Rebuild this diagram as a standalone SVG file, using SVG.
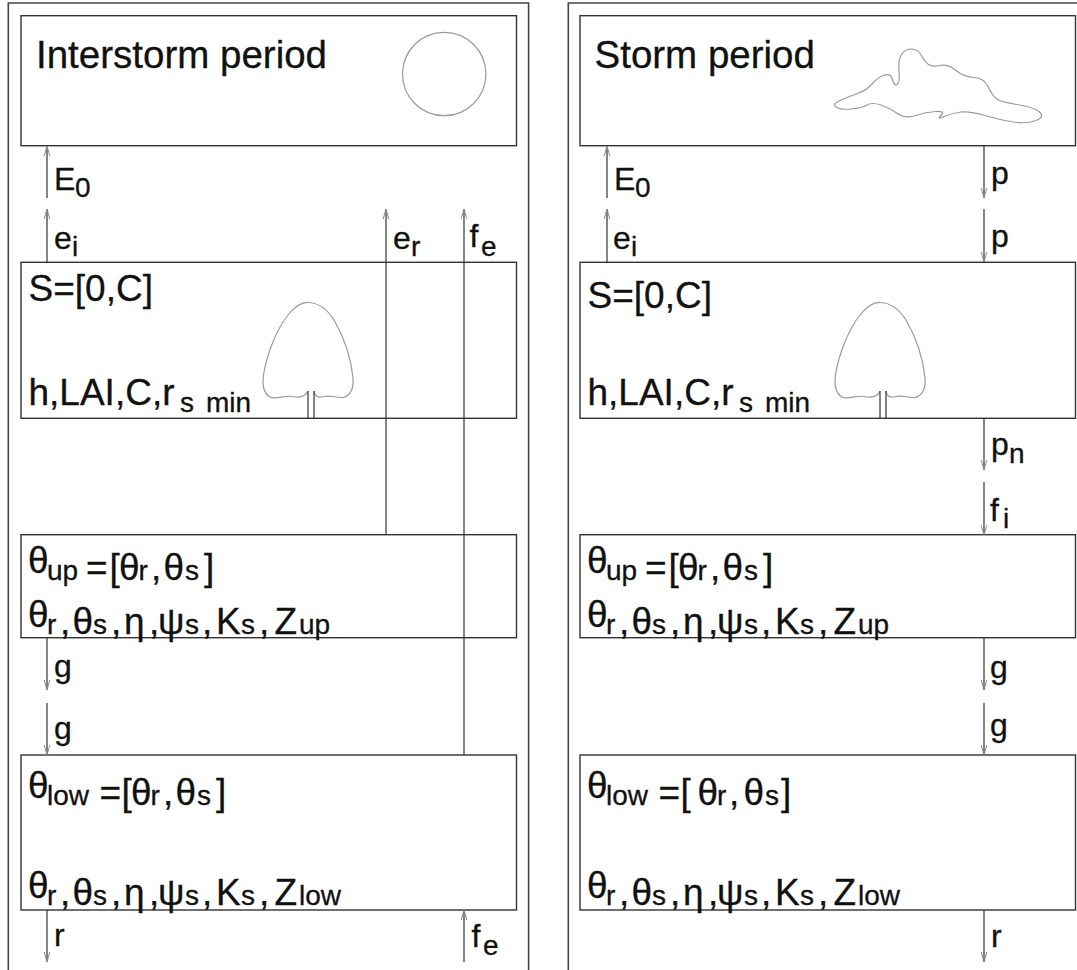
<svg xmlns="http://www.w3.org/2000/svg" xmlns:xlink="http://www.w3.org/1999/xlink" width="1077" height="970" viewBox="0 0 1077 970">
  <style>
    .frame { fill: none; stroke: #444; stroke-width: 1.6; }
    .box { fill: #fff; stroke: #333; stroke-width: 1.4; }
    .sketch { fill: none; stroke: #9a9a9a; stroke-width: 1.2; stroke-linejoin: round; }
    .trunk { fill: none; stroke: #333; stroke-width: 1.2; }
    .flow { fill: none; stroke: #333; stroke-width: 1.2; marker-end: url(#ah); }
    text { font-family: "Liberation Sans", Arial, sans-serif; fill: #111; stroke: #111; stroke-width: 0.3; }
    .title { font-size: 38.5px; }
    .main { font-size: 37px; }
    .lab { font-size: 32px; }
    .sub { font-size: 28px; }
  </style>
  <defs>
    <marker id="ah" viewBox="0 0 12 8" markerWidth="12" markerHeight="8" refX="11" refY="4" orient="auto" markerUnits="userSpaceOnUse">
      <path d="M1,1.2 L11,4 L1,6.8" fill="none" stroke="#8a8a8a" stroke-width="1"/>
    </marker>
    <!-- broadleaf tree: outline of the crown plus a two-line trunk -->
    <g id="tree">
      <path class="sketch" d="M308,391 C306,396 300,398 292,396.5 C284,395 276,400 270,397 C263,393 262,383 264,372 C267,355 276,330 288,315 C296,305 303,302 309,302.5 C318,303 327,309 334,320 C344,337 351,358 353,378 C354,389 350,396 343,397.5 C336,398 330,395 324,396.5 C318,398 315,397 314,391"/>
      <path class="trunk" d="M308,391 V418 M314,391 V418"/>
    </g>
  </defs>

  <rect width="1077" height="970" fill="#fff"/>

  <!-- panel frames -->
  <g id="frames">
    <path class="frame" d="M8.3,975 V3 H528.6 V975"/>
    <path class="frame" d="M568.3,975 V3 H1090"/>
  </g>

  <!-- ===== left panel: interstorm ===== -->
  <g id="interstorm-atmosphere">
    <rect class="box" x="21" y="15.7" width="495.5" height="130"/>
    <text class="title" x="36" y="68">Interstorm period</text>
    <circle class="sketch" cx="444.2" cy="74" r="41.7"/>
  </g>

  <g id="interstorm-canopy">
    <rect class="box" x="21" y="262.3" width="495.5" height="156"/>
    <text class="main" x="28.5" y="301">S=[0,C]</text>
    <text class="main" y="405"><tspan x="28.5">h,LAI,C,r</tspan><tspan class="sub" x="180" y="412">s</tspan><tspan class="sub" x="206" y="412">min</tspan></text>
    <use xlink:href="#tree"/>
  </g>

  <g id="interstorm-upper-soil">
    <rect class="box" x="21" y="534.7" width="495.5" height="103"/>
    <text class="main" y="573"><tspan x="28">θ</tspan><tspan class="sub" x="47" y="580">up</tspan><tspan x="86">=</tspan><tspan x="109.5">[</tspan><tspan x="119">θ</tspan><tspan class="sub" x="138.5" y="580">r</tspan><tspan x="151">,</tspan><tspan x="163.5">θ</tspan><tspan class="sub" x="185" y="580">s</tspan><tspan x="204">]</tspan></text>
    <text class="main" y="627"><tspan x="28">θ</tspan><tspan class="sub" x="47" y="634">r</tspan><tspan x="60">,</tspan><tspan x="72.5">θ</tspan><tspan class="sub" x="93" y="634">s</tspan><tspan x="111">,</tspan><tspan x="124">η</tspan><tspan x="149">,</tspan><tspan x="158">ψ</tspan><tspan class="sub" x="185" y="634">s</tspan><tspan x="202">,</tspan><tspan x="216">K</tspan><tspan class="sub" x="241" y="634">s</tspan><tspan x="259">,</tspan><tspan x="274.5">Z</tspan><tspan class="sub" x="299" y="634">up</tspan></text>
  </g>

  <g id="interstorm-lower-soil">
    <rect class="box" x="21" y="755" width="495.5" height="155"/>
    <text class="main" y="798"><tspan x="28">θ</tspan><tspan class="sub" x="47" y="805">low</tspan><tspan x="99.6">=</tspan><tspan x="121.5">[</tspan><tspan x="131">θ</tspan><tspan class="sub" x="150.5" y="805">r</tspan><tspan x="163">,</tspan><tspan x="175.5">θ</tspan><tspan class="sub" x="197" y="805">s</tspan><tspan x="216">]</tspan></text>
    <text class="main" y="898"><tspan x="28">θ</tspan><tspan class="sub" x="47" y="905">r</tspan><tspan x="60">,</tspan><tspan x="72.5">θ</tspan><tspan class="sub" x="93" y="905">s</tspan><tspan x="111">,</tspan><tspan x="124">η</tspan><tspan x="149">,</tspan><tspan x="158">ψ</tspan><tspan class="sub" x="185" y="905">s</tspan><tspan x="202">,</tspan><tspan x="216">K</tspan><tspan class="sub" x="241" y="905">s</tspan><tspan x="259">,</tspan><tspan x="274.5">Z</tspan><tspan class="sub" x="299" y="905">low</tspan></text>
  </g>

  <!-- ===== right panel: storm ===== -->
  <g id="storm-atmosphere">
    <rect class="box" x="580" y="15.7" width="495.5" height="130"/>
    <text class="title" x="594.5" y="68">Storm period</text>
    <path class="sketch" d="M836,107 Q832,104 840,100.5 Q848,97 857.5,93.5 Q867,90 872.5,83.5 Q878,77 884.5,75 Q891,73 892.5,79.5 Q894,86 897,84.5 Q900,83 899,71.5 Q898,60 901.5,54.5 Q905,49 911.5,49 Q918,49 921.5,55.5 Q925,62 928.5,64.5 Q932,67 940,65.5 Q948,64 956,70.5 Q964,77 974,77.5 Q984,78 988,86.5 Q992,95 996,98.5 Q1000,102 1017,104.5 Q1034,107 1039.5,112 Q1045,117 1036,120.5 Q1027,124 1013.5,122 Q1000,120 985,115.5 Q970,111 961,112 Q952,113 944,116.5 Q936,120 941,115.5 Q946,111 936,111.5 Q926,112 915.5,115.5 Q905,119 897.5,113.5 Q890,108 881,105 Q872,102 867,105 Q862,108 851,109 Q840,110 836,107 Z"/>
  </g>

  <g id="storm-canopy" transform="translate(559,0)">
    <rect class="box" x="21" y="262.3" width="495.5" height="156"/>
    <text class="main" x="28.5" y="308">S=[0,C]</text>
    <text class="main" y="405"><tspan x="28.5">h,LAI,C,r</tspan><tspan class="sub" x="180" y="412">s</tspan><tspan class="sub" x="206" y="412">min</tspan></text>
    <use xlink:href="#tree" x="13"/>
  </g>

  <g id="storm-upper-soil" transform="translate(559,0)">
    <rect class="box" x="21" y="534.7" width="495.5" height="103"/>
    <text class="main" y="573"><tspan x="28">θ</tspan><tspan class="sub" x="47" y="580">up</tspan><tspan x="86">=</tspan><tspan x="109.5">[</tspan><tspan x="119">θ</tspan><tspan class="sub" x="138.5" y="580">r</tspan><tspan x="151">,</tspan><tspan x="163.5">θ</tspan><tspan class="sub" x="185" y="580">s</tspan><tspan x="204">]</tspan></text>
    <text class="main" y="627"><tspan x="28">θ</tspan><tspan class="sub" x="47" y="634">r</tspan><tspan x="60">,</tspan><tspan x="72.5">θ</tspan><tspan class="sub" x="93" y="634">s</tspan><tspan x="111">,</tspan><tspan x="124">η</tspan><tspan x="149">,</tspan><tspan x="158">ψ</tspan><tspan class="sub" x="185" y="634">s</tspan><tspan x="202">,</tspan><tspan x="216">K</tspan><tspan class="sub" x="241" y="634">s</tspan><tspan x="259">,</tspan><tspan x="274.5">Z</tspan><tspan class="sub" x="299" y="634">up</tspan></text>
  </g>

  <g id="storm-lower-soil" transform="translate(559,0)">
    <rect class="box" x="21" y="755" width="495.5" height="155"/>
    <text class="main" y="798"><tspan x="28">θ</tspan><tspan class="sub" x="47" y="805">low</tspan><tspan x="99.6">=</tspan><tspan x="121.5">[</tspan><tspan x="138.5">θ</tspan><tspan class="sub" x="158" y="805">r</tspan><tspan x="170">,</tspan><tspan x="184.5">θ</tspan><tspan class="sub" x="206" y="805">s</tspan><tspan x="222">]</tspan></text>
    <text class="main" y="898"><tspan x="28">θ</tspan><tspan class="sub" x="47" y="905">r</tspan><tspan x="60">,</tspan><tspan x="72.5">θ</tspan><tspan class="sub" x="93" y="905">s</tspan><tspan x="111">,</tspan><tspan x="124">η</tspan><tspan x="149">,</tspan><tspan x="158">ψ</tspan><tspan class="sub" x="185" y="905">s</tspan><tspan x="202">,</tspan><tspan x="216">K</tspan><tspan class="sub" x="241" y="905">s</tspan><tspan x="259">,</tspan><tspan x="274.5">Z</tspan><tspan class="sub" x="299" y="905">low</tspan></text>
  </g>

  <!-- ===== water fluxes ===== -->
  <g id="connectors">
    <!-- interstorm -->
    <line class="flow" x1="47" y1="198" x2="47" y2="146"/>
    <line class="flow" x1="47" y1="262" x2="47" y2="209"/>
    <line class="flow" x1="386" y1="535" x2="386" y2="209"/>
    <line class="flow" x1="464" y1="755" x2="464" y2="209"/>
    <line class="flow" x1="47" y1="638" x2="47" y2="690"/>
    <line class="flow" x1="47" y1="703" x2="47" y2="755"/>
    <line class="flow" x1="47" y1="910" x2="47" y2="962"/>
    <line class="flow" x1="464" y1="962" x2="464" y2="910"/>
    <!-- storm -->
    <line class="flow" x1="607" y1="198" x2="607" y2="146"/>
    <line class="flow" x1="607" y1="262" x2="607" y2="209"/>
    <line class="flow" x1="984" y1="146" x2="984" y2="198"/>
    <line class="flow" x1="984" y1="209" x2="984" y2="262"/>
    <line class="flow" x1="984" y1="418" x2="984" y2="470"/>
    <line class="flow" x1="984" y1="482" x2="984" y2="535"/>
    <line class="flow" x1="984" y1="638" x2="984" y2="690"/>
    <line class="flow" x1="984" y1="703" x2="984" y2="755"/>
    <line class="flow" x1="984" y1="910" x2="984" y2="962"/>
  </g>

  <!-- flux labels -->
  <g id="flux-labels">
    <text class="lab" y="190"><tspan x="54">E</tspan><tspan class="sub" x="75" y="197">0</tspan></text>
    <text class="lab" y="249"><tspan x="54">e</tspan><tspan class="sub" x="72" y="256">i</tspan></text>
    <text class="lab" y="249"><tspan x="393">e</tspan><tspan class="sub" x="411" y="256">r</tspan></text>
    <text class="lab" y="247"><tspan x="469.5">f</tspan><tspan class="sub" x="481" y="256">e</tspan></text>
    <text class="lab" x="54" y="677">g</text>
    <text class="lab" x="54" y="739">g</text>
    <text class="lab" x="54" y="946">r</text>
    <text class="lab" y="947"><tspan x="471.5">f</tspan><tspan class="sub" x="483" y="955">e</tspan></text>

    <text class="lab" y="190"><tspan x="614">E</tspan><tspan class="sub" x="635" y="197">0</tspan></text>
    <text class="lab" y="249"><tspan x="613">e</tspan><tspan class="sub" x="631" y="256">i</tspan></text>
    <text class="lab" x="991" y="184">p</text>
    <text class="lab" x="991" y="247">p</text>
    <text class="lab" y="455"><tspan x="991">p</tspan><tspan class="sub" x="1009" y="463">n</tspan></text>
    <text class="lab" y="521"><tspan x="990">f</tspan><tspan class="sub" x="1003" y="528">i</tspan></text>
    <text class="lab" x="990" y="678">g</text>
    <text class="lab" x="990" y="736">g</text>
    <text class="lab" x="991" y="947">r</text>
  </g>
</svg>
